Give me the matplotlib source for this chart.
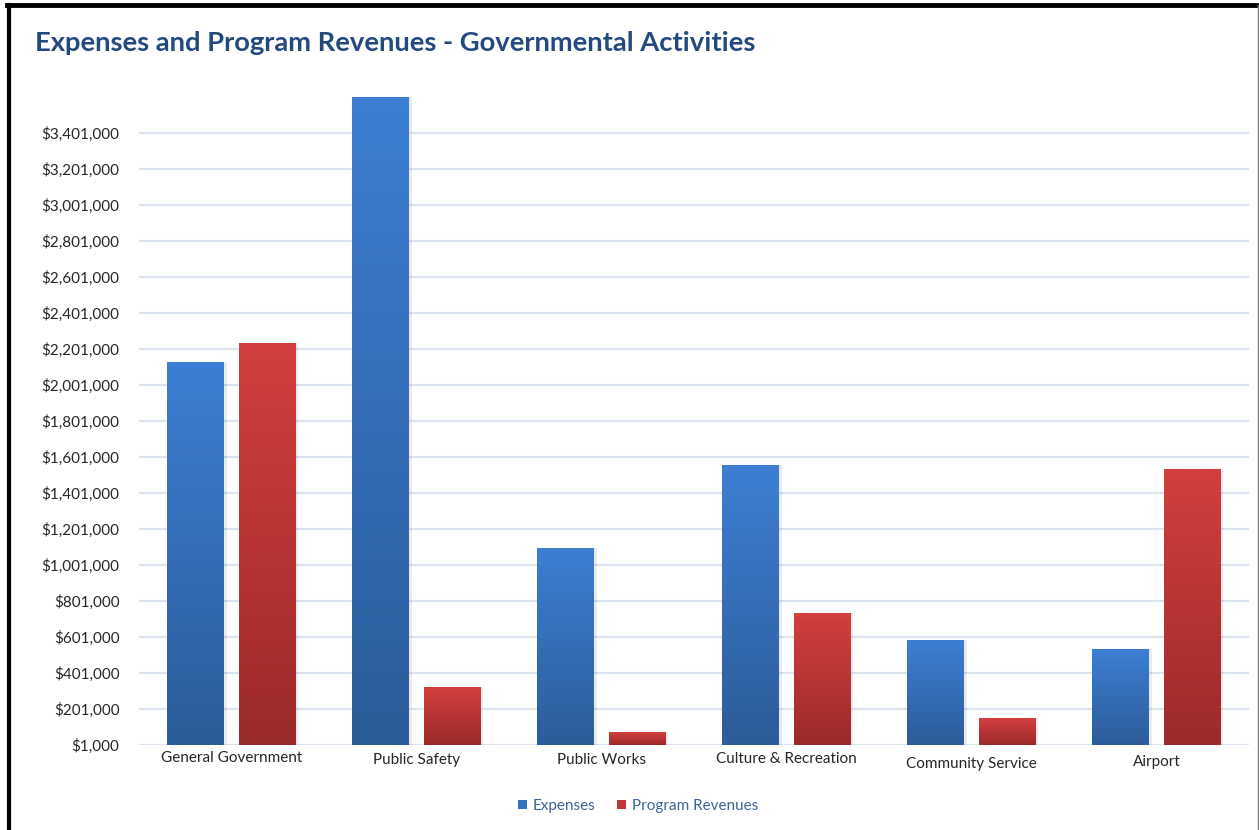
import numpy as np
import matplotlib
matplotlib.use("Agg")
import matplotlib.pyplot as plt
from matplotlib.ticker import FuncFormatter, FixedLocator
from matplotlib.colors import LinearSegmentedColormap
from matplotlib.lines import Line2D
from matplotlib.patches import Rectangle

categories = ["General Government", "Public Safety", "Public Works",
              "Culture & Recreation", "Community Service", "Airport"]
expenses = [2129000, 3601000, 1095000, 1557000, 584000, 534000]
program_revenues = [2234000, 323000, 73000, 734000, 151000, 1534000]
series_names = ["Expenses", "Program Revenues"]
y_ticks = [1000 + 200000 * k for k in range(18)]
title = "Expenses and Program Revenues - Governmental Activities"

plt.rcParams['font.family'] = ['Lato', 'DejaVu Sans']

fig = plt.figure(figsize=(12.59, 8.30), dpi=100)
ax = fig.add_axes([139/1259, 1 - 745/830, (1249-139)/1259, (745-97)/830])

x = np.arange(len(categories))
w = 0.308
off = 0.192

blue_cmap = LinearSegmentedColormap.from_list("b", ["#2c5c99", "#3c7fd3"])
red_cmap = LinearSegmentedColormap.from_list("r", ["#9b2a2a", "#d23f3e"])
grad = np.linspace(0, 1, 256).reshape(-1, 1)

def grad_bars(xs, vals, cmap, base_color, label):
    bars = ax.bar(xs, vals, width=w, bottom=0, color=base_color, label=label,
                  zorder=3, linewidth=0)
    for b in bars:
        x0, y0 = b.get_x(), 1000
        h = b.get_height()
        ax.add_patch(Rectangle((x0 + 0.012, y0), b.get_width(), h - 1000,
                               color="#000000", alpha=0.08, zorder=2, linewidth=0))
        im = ax.imshow(grad, cmap=cmap, aspect="auto", origin="lower",
                       extent=[x0, x0 + b.get_width(), y0, h], zorder=4,
                       interpolation="bilinear")
        im.set_clip_path(b)
    return bars

grad_bars(x - off, expenses, blue_cmap, "#3470bd", series_names[0])
grad_bars(x + off, program_revenues, red_cmap, "#c0393a", series_names[1])

ax.set_xlim(-0.5, len(categories) - 0.5)
ax.set_ylim(1000, 3601000)
ax.yaxis.set_major_locator(FixedLocator(y_ticks))
ax.yaxis.set_major_formatter(FuncFormatter(lambda v, p: "${:,.0f}".format(v)))
ax.grid(axis="y", color="#dae4f1", linewidth=1.6, zorder=0)
ax.set_axisbelow(True)
for s in ax.spines.values():
    s.set_visible(False)
ax.tick_params(axis="y", length=0, labelsize=11, labelcolor="#262626", pad=14)
ax.set_xticks(x)
ax.set_xticklabels([])
ax.tick_params(axis="x", length=0)

label_dy = [9, 11, 10.5, 9.8, 14, 12.5]
for xi, lab, dy in zip(x, categories, label_dy):
    ax.annotate(lab, (xi, 1000), xytext=(0, -dy), textcoords="offset points",
                ha="center", va="center", fontsize=11, color="#262626")

handles, labels = ax.get_legend_handles_labels()
leg = fig.legend(handles, labels, loc="center", bbox_to_anchor=(638/1259, 1 - 806/830),
                 ncol=2, frameon=False, fontsize=11, handlelength=0.6, handleheight=0.6,
                 handletextpad=0.4, columnspacing=1.4)
for t in leg.get_texts():
    t.set_color("#3d6494")

fig.text(35/1259, 1 - 43/830, title, fontsize=19.7, fontweight="bold",
         color="#23497f", ha="left", va="center")

# frame
fig.add_artist(Line2D([7/1259, 1258/1259], [1 - 5/830, 1 - 5/830], color="black", linewidth=3.5))
fig.add_artist(Line2D([8.5/1259, 8.5/1259], [0, 1 - 5/830], color="black", linewidth=3))
fig.add_artist(Line2D([1258/1259, 1258/1259], [0, 1 - 5/830], color="#808080", linewidth=1))

fig.savefig("out.png", dpi=100)
